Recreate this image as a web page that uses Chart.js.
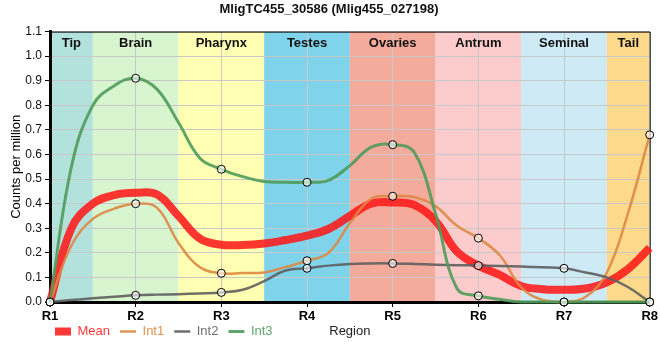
<!DOCTYPE html>
<html>
<head>
<meta charset="utf-8">
<script src="https://cdn.jsdelivr.net/npm/chart.js@4"></script>
<style>
  html, body { margin: 0; padding: 0; background: #fff; }
  #wrap { width: 660px; height: 360px; }
</style>
</head>
<body>
<div id="wrap"><canvas id="chart"></canvas></div>
<script>
// tick labels and body regions
const regions = ['R1', 'R2', 'R3', 'R4', 'R5', 'R6', 'R7', 'R8'];
const bandNames = ['Tip', 'Brain', 'Pharynx', 'Testes', 'Ovaries', 'Antrum', 'Seminal', 'Tail'];
const bandEdges = [1, 1.5, 2.5, 3.5, 4.5, 5.5, 6.5, 7.5, 8];
const bandColors = ['#b3e2dd', '#d7f5cf', '#ffffb3', '#7fd4ec', '#f4ab9b', '#fccbcb', '#cdeaf5', '#fdd98b'];

// curve positions (quarter regions)
const xs = [1, 1.25, 1.5, 1.75, 2, 2.25, 2.5, 2.75, 3, 3.25, 3.5, 3.75, 4, 4.25, 4.5,
            4.75, 5, 5.25, 5.5, 5.75, 6, 6.25, 6.5, 6.75, 7, 7.25, 7.5, 7.75, 8];
const meanVals = [0, 0.30, 0.40, 0.435, 0.444, 0.437, 0.35, 0.258, 0.233, 0.232, 0.238, 0.252, 0.27, 0.297, 0.35,
                  0.40, 0.405, 0.395, 0.33, 0.205, 0.148, 0.11, 0.065, 0.052, 0.05, 0.055, 0.08, 0.135, 0.22];
const int1Vals = [0, 0.23, 0.338, 0.38, 0.40, 0.383, 0.24, 0.141, 0.117, 0.118, 0.12, 0.142, 0.168, 0.20, 0.32,
                  0.42, 0.43, 0.427, 0.39, 0.31, 0.26, 0.19, 0.06, 0.008, 0, 0.02, 0.12, 0.365, 0.68];
const int2Vals = [0, 0.008, 0.015, 0.021, 0.027, 0.03, 0.032, 0.035, 0.039, 0.05, 0.085, 0.128, 0.137, 0.148, 0.155,
                  0.157, 0.157, 0.155, 0.152, 0.15, 0.148, 0.146, 0.144, 0.141, 0.137, 0.12, 0.1, 0.06, 0];
const int3Vals = [0, 0.55, 0.80, 0.88, 0.91, 0.865, 0.73, 0.585, 0.54, 0.51, 0.49, 0.487, 0.487, 0.495, 0.555,
                  0.63, 0.64, 0.61, 0.36, 0.055, 0.025, 0.011, 0, 0, 0, 0, 0, 0, 0];

const FONT = '"Liberation Sans", Arial, sans-serif';

function pts(vals) {
  return xs.map((x, i) => ({ x: x, y: vals[i] }));
}

// markers only at the measured regions
function markerRadius(ctx) {
  return ctx.raw && Number.isInteger(ctx.raw.x) ? 4 : 0;
}

function seriesLine(label, vals, color, width, markers, order) {
  return {
    label: label,
    data: pts(vals),
    borderColor: color,
    backgroundColor: color,
    borderWidth: width,
    tension: 0.4,
    pointRadius: markers ? markerRadius : 0,
    pointBackgroundColor: 'rgba(255,255,255,0.6)',
    pointBorderColor: '#000',
    pointBorderWidth: 1,
    clip: false,
    order: order
  };
}

// background bands + their names
const bandsPlugin = {
  id: 'bands',
  beforeDraw(chart) {
    const { ctx, chartArea, scales } = chart;
    ctx.save();
    for (let i = 0; i < bandNames.length; i++) {
      const x0 = scales.x.getPixelForValue(bandEdges[i]);
      const x1 = scales.x.getPixelForValue(bandEdges[i + 1]);
      ctx.fillStyle = bandColors[i];
      ctx.fillRect(x0, chartArea.top, x1 - x0, chartArea.bottom - chartArea.top);
    }
    ctx.restore();
  },
  beforeDatasetsDraw(chart) {
    const { ctx, chartArea, scales } = chart;
    ctx.save();
    ctx.font = 'bold 13px ' + FONT;
    ctx.fillStyle = '#111';
    ctx.textAlign = 'center';
    ctx.textBaseline = 'middle';
    for (let i = 0; i < bandNames.length; i++) {
      const x0 = scales.x.getPixelForValue(bandEdges[i]);
      const x1 = scales.x.getPixelForValue(bandEdges[i + 1]);
      ctx.fillText(bandNames[i], (x0 + x1) / 2, chartArea.top + 12);
    }
    // thin frame on top and right
    ctx.strokeStyle = '#000';
    ctx.lineWidth = 1;
    ctx.beginPath();
    ctx.moveTo(chartArea.left, chartArea.top + 0.5);
    ctx.lineTo(chartArea.right + 0.5, chartArea.top + 0.5);
    ctx.lineTo(chartArea.right + 0.5, chartArea.bottom);
    ctx.stroke();
    ctx.restore();
  },
  afterLayout(chart) {
    // legend row starts under the plot and sits a bit higher
    const lg = chart.legend;
    if (lg) {
      lg.left += 45;
      lg.top -= 11;
      lg.bottom -= 11;
    }
  },
  afterDraw(chart) {
    const { ctx, chartArea, legend } = chart;
    ctx.save();
    ctx.font = '13px ' + FONT;
    ctx.fillStyle = '#222';
    ctx.textAlign = 'center';
    ctx.textBaseline = 'middle';
    ctx.fillText('Region', (chartArea.left + chartArea.right) / 2, legend.top + legend.height / 2);
    ctx.restore();
  }
};

new Chart(document.getElementById('chart'), {
  type: 'line',
  data: {
    datasets: [
      seriesLine('Mean', meanVals, 'rgba(255, 20, 20, 0.85)', 8, false, 4),
      seriesLine('Int1', int1Vals, 'rgba(222, 135, 65, 0.9)', 2.5, true, 3),
      seriesLine('Int2', int2Vals, 'rgba(95, 95, 95, 0.9)', 2.5, true, 2),
      seriesLine('Int3', int3Vals, 'rgba(80, 155, 90, 0.9)', 3, true, 1)
    ]
  },
  options: {
    responsive: true,
    maintainAspectRatio: false,
    animation: false,
    layout: { padding: { left: 0, right: 2, top: 0, bottom: 1 } },
    plugins: {
      title: {
        display: true,
        text: 'MligTC455_30586 (Mlig455_027198)',
        color: '#111',
        font: { family: FONT, size: 13, weight: 'bold' },
        padding: { top: 2, bottom: 14 }
      },
      legend: {
        position: 'bottom',
        align: 'start',
        labels: {
          usePointStyle: true,
          pointStyle: 'line',
          pointStyleWidth: 16,
          padding: 10,
          font: { family: FONT, size: 13 },
          sort: (a, b) => a.datasetIndex - b.datasetIndex,
          generateLabels(chart) {
            return chart.data.datasets.map((ds, i) => ({
              text: ds.label,
              datasetIndex: i,
              strokeStyle: ds.borderColor,
              fillStyle: ds.borderColor,
              lineWidth: ds.borderWidth,
              pointStyle: 'line',
              fontColor: ds.borderColor,
              hidden: false
            }));
          }
        }
      },
      tooltip: { enabled: false }
    },
    scales: {
      x: {
        type: 'linear',
        min: 1,
        max: 8,
        border: { color: '#000', width: 3 },
        grid: { color: '#c8c8c8', lineWidth: 1, tickColor: '#000', tickLength: 5 },
        ticks: {
          stepSize: 1,
          color: '#000',
          padding: 2,
          font: { family: FONT, size: 13, weight: 'bold' },
          callback: v => regions[v - 1]
        },
        afterFit(scale) { scale.height = 24; }
      },
      y: {
        min: 0,
        max: 1.1,
        border: { color: '#000', width: 3 },
        grid: { color: '#c8c8c8', lineWidth: 1, tickColor: '#000', tickLength: 5 },
        title: {
          display: true,
          text: 'Counts per million',
          color: '#000',
          font: { family: FONT, size: 13 },
          padding: { top: 9, bottom: 0 }
        },
        ticks: {
          stepSize: 0.1,
          color: '#111',
          padding: 3,
          font: { family: FONT, size: 12 },
          callback: v => v.toFixed(1)
        },
        afterFit(scale) { scale.width = 50; }
      }
    }
  },
  plugins: [bandsPlugin]
});
</script>
</body>
</html>
